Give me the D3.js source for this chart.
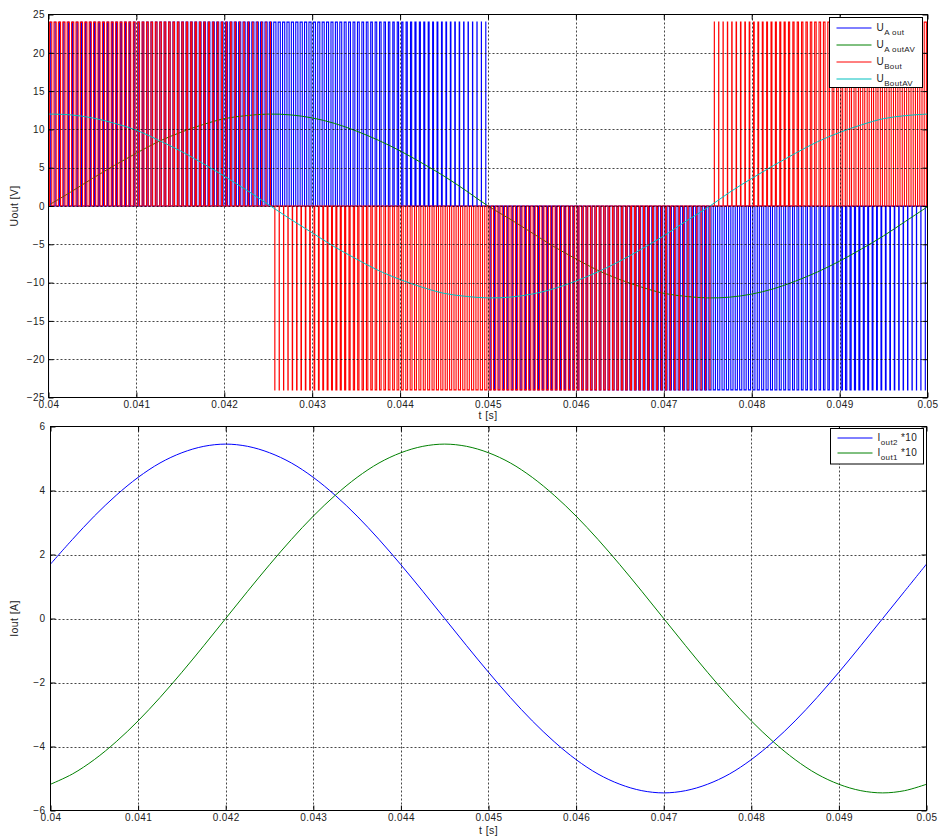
<!DOCTYPE html>
<html>
<head>
<meta charset="utf-8">
<title>Uout / Iout</title>
<script src="https://cdn.jsdelivr.net/npm/d3@7/dist/d3.min.js"></script>
<style>
  body { margin: 0; background: #fff; }
  svg text { font-family: "Liberation Sans", Arial, Helvetica, sans-serif; fill: #222; }
  .tick text { font-size: 10px; letter-spacing: 0.4px; }
  .axis-label { font-size: 10.5px; letter-spacing: 0.4px; }
  .legend text { font-size: 10px; letter-spacing: 0.4px; }
</style>
</head>
<body>
<svg id="chart" width="940" height="837"></svg>
<script>
// sample instants of the curves [s]
const time = [0.04, 0.04025, 0.0405, 0.04075, 0.041, 0.04125, 0.0415, 0.04175, 0.042, 0.04225,
  0.0425, 0.04275, 0.043, 0.04325, 0.0435, 0.04375, 0.044, 0.04425, 0.0445, 0.04475,
  0.045, 0.04525, 0.0455, 0.04575, 0.046, 0.04625, 0.0465, 0.04675, 0.047, 0.04725,
  0.0475, 0.04775, 0.048, 0.04825, 0.0485, 0.04875, 0.049, 0.04925, 0.0495, 0.04975, 0.05];

// averaged bridge leg voltages [V]
const uAoutAV = [0.1, 1.8, 3.6, 5.3, 6.9, 8.4, 9.6, 10.6, 11.4, 11.8,
  12.0, 11.9, 11.5, 10.8, 9.8, 8.6, 7.2, 5.6, 3.9, 2.0,
  0.0, -1.7, -3.5, -5.3, -6.9, -8.4, -9.6, -10.6, -11.4, -11.8,
  -12.0, -11.9, -11.5, -10.8, -9.8, -8.6, -7.2, -5.6, -3.9, -2.0, -0.1];
const uBoutAV = [12.0, 11.9, 11.5, 10.8, 9.9, 8.6, 7.2, 5.6, 3.9, 2.1,
  0.2, -1.7, -3.5, -5.3, -6.9, -8.4, -9.6, -10.6, -11.4, -11.8,
  -12.0, -11.9, -11.5, -10.8, -9.8, -8.6, -7.2, -5.6, -3.9, -2.0,
  -0.2, 1.8, 3.6, 5.3, 6.9, 8.4, 9.6, 10.6, 11.4, 11.8, 12.0];

// output currents, scaled *10 [A]
const iOut2 = [1.70, 2.47, 3.20, 3.85, 4.41, 4.86, 5.18, 5.38, 5.45, 5.38,
  5.18, 4.86, 4.41, 3.85, 3.20, 2.47, 1.68, 0.85, 0.00, -0.85,
  -1.68, -2.47, -3.20, -3.85, -4.41, -4.86, -5.18, -5.38, -5.45, -5.38,
  -5.18, -4.86, -4.41, -3.85, -3.20, -2.47, -1.68, -0.85, 0.00, 0.85, 1.70];
const iOut1 = [-5.18, -4.86, -4.41, -3.85, -3.20, -2.47, -1.68, -0.85, 0.00, 0.85,
  1.68, 2.47, 3.20, 3.85, 4.41, 4.86, 5.18, 5.38, 5.45, 5.38,
  5.18, 4.86, 4.41, 3.85, 3.20, 2.47, 1.68, 0.85, 0.00, -0.85,
  -1.68, -2.47, -3.20, -3.85, -4.41, -4.86, -5.18, -5.38, -5.45, -5.38, -5.18];

// PWM parameters
const pwmPeriod = 0.00005;  // about 20 pulses per ms
const pwmLevel = 24;        // pulse height [V]
const uAoutStart = -24;     // U_Aout sits at -24 V at the first instant

const xTicks = [0.04, 0.041, 0.042, 0.043, 0.044, 0.045, 0.046, 0.047, 0.048, 0.049, 0.05];
const xTickLabels = ['0.04', '0.041', '0.042', '0.043', '0.044', '0.045', '0.046', '0.047', '0.048', '0.049', '0.05'];
const uTicks = [-25, -20, -15, -10, -5, 0, 5, 10, 15, 20, 25];
const iTicks = [-6, -4, -2, 0, 2, 4, 6];

// legend entries: main letter, subscript, suffix
const uLegend = [['U', 'A out', ''], ['U', 'A outAV', ''], ['U', 'Bout', ''], ['U', 'BoutAV', '']];
const iLegend = [['I', 'out2', ' *10'], ['I', 'out1', ' *10']];

const blue = '#0000ff', green = '#008000', red = '#ff0000', cyan = '#00bfbf';

const svg = d3.select('#chart');

// axes scales + clipped group for one subplot
function makePanel(id, box, yDomain) {
  const x = d3.scaleLinear().domain([xTicks[0], xTicks[xTicks.length - 1]]).range([box.left, box.right]);
  const y = d3.scaleLinear().domain(yDomain).range([box.bottom, box.top]);
  svg.append('clipPath').attr('id', id).append('rect')
    .attr('x', box.left).attr('y', box.top - 1)
    .attr('width', box.right - box.left).attr('height', box.bottom - box.top + 2);
  const plot = svg.append('g').attr('clip-path', `url(#${id})`);
  return { x, y, box, plot };
}

// rectangular pulses whose width follows the averaged value
function pwmPath(p, avg, start) {
  const ref = d3.scaleLinear().domain(time).range(avg);
  const path = d3.path();
  const t0 = time[0], t1 = time[time.length - 1];
  const n = Math.round((t1 - t0) / pwmPeriod);
  path.moveTo(p.x(t0), p.y(start));
  path.lineTo(p.x(t0), p.y(0));
  for (let j = 0; j < n; j++) {
    const tc = t0 + (j + 0.5) * pwmPeriod;
    const v = ref(tc);
    const half = Math.abs(v) / pwmLevel * pwmPeriod / 2;
    const lvl = Math.sign(v) * pwmLevel;
    path.lineTo(p.x(tc - half), p.y(0));
    path.lineTo(p.x(tc - half), p.y(lvl));
    path.lineTo(p.x(tc + half), p.y(lvl));
    path.lineTo(p.x(tc + half), p.y(0));
  }
  path.lineTo(p.x(t1), p.y(0));
  return path.toString();
}

function drawLine(p, values, color) {
  const line = d3.line()
    .x((d, i) => p.x(time[i]))
    .y(d => p.y(d))
    .curve(d3.curveCatmullRom.alpha(0.5));
  p.plot.append('path')
    .attr('d', line(values))
    .attr('fill', 'none')
    .attr('stroke', color)
    .attr('stroke-width', 1);
}

function drawPulses(p, avg, start, color) {
  p.plot.append('path')
    .attr('d', pwmPath(p, avg, start))
    .attr('fill', 'none')
    .attr('stroke', color)
    .attr('stroke-width', 1.1);
}

// grid, box, ticks and labels
function decorate(p, yTicks, yPad, yLabel, xLabelDy) {
  const { x, y, box } = p;

  const grid = svg.append('g')
    .attr('stroke', '#000')
    .attr('stroke-width', 0.9)
    .attr('stroke-dasharray', '2,2')
    .attr('opacity', 0.8);
  grid.selectAll('.gx').data(xTicks.slice(1, -1)).join('line')
    .attr('x1', d => Math.round(x(d)) + 0.5).attr('x2', d => Math.round(x(d)) + 0.5)
    .attr('y1', box.top).attr('y2', box.bottom);
  grid.selectAll('.gy').data(yTicks.slice(1, -1)).join('line')
    .attr('y1', d => Math.round(y(d)) + 0.5).attr('y2', d => Math.round(y(d)) + 0.5)
    .attr('x1', box.left).attr('x2', box.right);

  svg.append('g').attr('transform', `translate(0,${box.bottom})`)
    .call(d3.axisBottom(x).tickValues(xTicks).tickFormat((d, i) => xTickLabels[i])
      .tickSizeInner(-5).tickSizeOuter(0).tickPadding(3.5))
    .call(g => g.select('.domain').remove());
  svg.append('g').attr('transform', `translate(0,${box.top})`)
    .call(d3.axisTop(x).tickValues(xTicks).tickFormat('').tickSizeInner(-5).tickSizeOuter(0))
    .call(g => g.select('.domain').remove());
  svg.append('g').attr('transform', `translate(${box.left},0)`)
    .call(d3.axisLeft(y).tickValues(yTicks).tickSizeInner(-5).tickSizeOuter(0).tickPadding(yPad))
    .call(g => g.select('.domain').remove());
  svg.append('g').attr('transform', `translate(${box.right},0)`)
    .call(d3.axisRight(y).tickValues(yTicks).tickFormat('').tickSizeInner(-5).tickSizeOuter(0))
    .call(g => g.select('.domain').remove());

  svg.append('rect')
    .attr('x', box.left).attr('y', box.top)
    .attr('width', box.right - box.left).attr('height', box.bottom - box.top)
    .attr('fill', 'none').attr('stroke', '#000').attr('stroke-width', 1);

  svg.append('text').attr('class', 'axis-label')
    .attr('x', (box.left + box.right) / 2).attr('y', box.bottom + xLabelDy)
    .attr('text-anchor', 'middle').text('t [s]');
  svg.append('text').attr('class', 'axis-label')
    .attr('transform', `translate(17.5,${(box.top + box.bottom) / 2}) rotate(-90)`)
    .attr('text-anchor', 'middle').text(yLabel);
}

function drawLegend(box, items, colors) {
  const g = svg.append('g').attr('class', 'legend');
  g.append('rect')
    .attr('x', box.x).attr('y', box.y).attr('width', box.w).attr('height', box.h)
    .attr('fill', '#fff').attr('stroke', '#000').attr('stroke-width', 1);
  items.forEach((d, i) => {
    const ly = Math.round(box.first + i * box.step);
    g.append('line')
      .attr('x1', box.x + 7).attr('x2', box.x + 42)
      .attr('y1', ly).attr('y2', ly)
      .attr('stroke', colors[i]).attr('stroke-width', 1);
    const t = g.append('text').attr('x', box.x + 47).attr('y', ly + 2.5);
    t.append('tspan').text(d[0]);
    t.append('tspan').attr('dy', 4.5).style('font-size', '8px').text(d[1]);
    if (d[2]) t.append('tspan').attr('dy', -4.5).text(d[2]);
  });
}

// upper subplot: bridge voltages
const upper = makePanel('clipU', { left: 48.5, right: 927.5, top: 14.5, bottom: 397.5 }, [-25, 25]);
drawPulses(upper, uAoutAV, uAoutStart, blue);
drawLine(upper, uAoutAV, green);
drawPulses(upper, uBoutAV, 0, red);
drawLine(upper, uBoutAV, cyan);
decorate(upper, uTicks, 3.5, 'Uout [V]', 21.5);
drawLegend({ x: 829.5, y: 17.5, w: 93, h: 70, first: 27.5, step: 17 }, uLegend, [blue, green, red, cyan]);

// lower subplot: output currents
const lower = makePanel('clipI', { left: 50.5, right: 926.5, top: 426.5, bottom: 810.5 }, [-6, 6]);
drawLine(lower, iOut2, blue);
drawLine(lower, iOut1, green);
decorate(lower, iTicks, 5, 'Iout [A]', 23.5);
drawLegend({ x: 830.5, y: 428.5, w: 93, h: 35.5, first: 437.5, step: 15.7 }, iLegend, [blue, green]);
</script>
</body>
</html>
